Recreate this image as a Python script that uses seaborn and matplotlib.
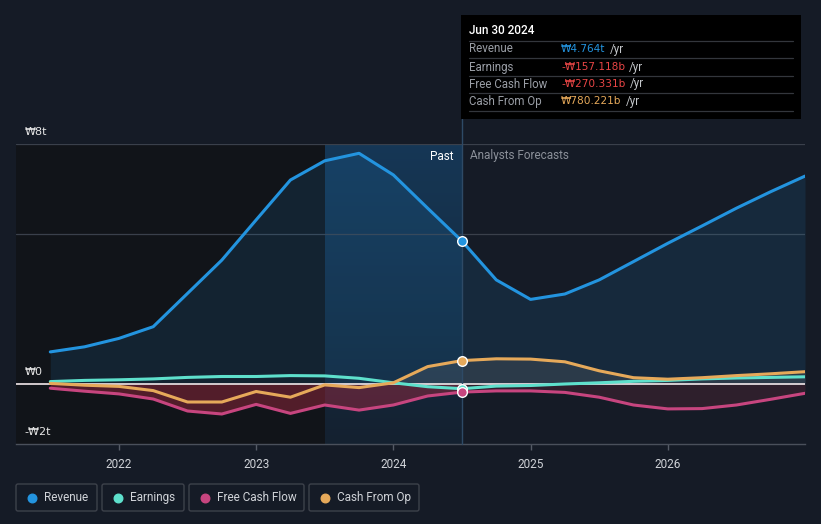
import numpy as np
import matplotlib.pyplot as plt
import seaborn as sns
import pandas as pd
from matplotlib.patches import Rectangle, FancyBboxPatch
from matplotlib.colors import LinearSegmentedColormap

# quarterly points, decimal years (past up to Jun 2024, forecasts after)
quarters = [2021.5, 2021.75, 2022.0, 2022.25, 2022.5, 2022.75, 2023.0, 2023.25,
            2023.5, 2023.75, 2024.0, 2024.25, 2024.5,
            2024.75, 2025.0, 2025.25, 2025.5, 2025.75, 2026.0, 2026.25,
            2026.5, 2026.75, 2027.0]
# values in ₩ trillions
revenue = [1.07, 1.24, 1.52, 1.91, 3.02, 4.13, 5.47, 6.80, 7.44, 7.69, 6.97, 5.86, 4.764,
           3.47, 2.82, 3.00, 3.47, 4.08, 4.69, 5.27, 5.86, 6.41, 6.93]
earnings = [0.08, 0.12, 0.14, 0.17, 0.22, 0.25, 0.25, 0.28, 0.27, 0.19, 0.04, -0.09, -0.157,
            -0.07, -0.05, 0.00, 0.04, 0.09, 0.12, 0.17, 0.20, 0.22, 0.24]
free_cash_flow = [-0.14, -0.24, -0.33, -0.50, -0.90, -1.00, -0.68, -0.98, -0.70, -0.87, -0.70, -0.40, -0.270,
                  -0.23, -0.23, -0.28, -0.44, -0.70, -0.83, -0.82, -0.70, -0.51, -0.31]
cash_from_op = [0.02, -0.04, -0.08, -0.22, -0.60, -0.60, -0.25, -0.44, -0.03, -0.12, 0.04, 0.58, 0.780,
                0.84, 0.83, 0.74, 0.44, 0.21, 0.16, 0.21, 0.28, 0.34, 0.41]

past_end = 2024.5
year_ticks = [2022, 2023, 2024, 2025, 2026]
y_labels = {8: "₩8t", 0: "₩0", -2: "-₩2t"}

series_names = ["Revenue", "Earnings", "Free Cash Flow", "Cash From Op"]
colors = {"Revenue": "#2394df", "Earnings": "#5ee0cc",
          "Free Cash Flow": "#c7457f", "Cash From Op": "#e6a95a"}

tip_title = "Jun 30 2024"
tip_values = ["₩4.764t", "-₩157.118b", "-₩270.331b", "₩780.221b"]
tip_colors = ["#2394df", "#e84545", "#e84545", "#e6a95a"]

df = pd.DataFrame({"date": quarters, "Revenue": revenue, "Earnings": earnings,
                   "Free Cash Flow": free_cash_flow, "Cash From Op": cash_from_op})
long_df = df.melt(id_vars="date", var_name="series", value_name="value")

bg = "#151b26"
sns.set_theme(style="dark")
plt.rcParams['font.family'] = ['Roboto', 'DejaVu Sans']
cur_font = ['DejaVu Sans']  # Roboto's won sign hides the minus

fig = plt.figure(figsize=(8.21, 5.24), dpi=100, facecolor=bg)
ax = fig.add_axes([16 / 821, 1 - 444 / 524, 789 / 821, 300 / 524])
ax.set_facecolor(bg)
xmin, xmax = 2021.25, 2027.0
ax.set_xlim(xmin, xmax)
ax.set_ylim(-2, 8)

# darker past area and the highlighted last year
ax.axvspan(xmin, 2023.5, color="#111419", zorder=0, lw=0)
grad = LinearSegmentedColormap.from_list("hl", ["#142232", "#163b5c"])
ax.imshow(np.linspace(0, 1, 100).reshape(-1, 1), cmap=grad, aspect="auto",
          extent=[2023.5, past_end, -2, 8], origin="lower", zorder=0.5, alpha=0.9)

# gridlines
for g in [8, 5]:
    ax.axhline(g, color="#3a404b", lw=0.9, zorder=1)
ax.axhline(0, color="#f2e8ea", lw=1.2, zorder=3)

x = np.array(quarters)
past = x <= past_end
fut = x >= past_end

# fills
ax.fill_between(x, df["Revenue"], 0, color=colors["Revenue"], alpha=0.12, lw=0, zorder=1.5)
ax.fill_between(x[past], df["Free Cash Flow"][past], 0, color="#a3293f", alpha=0.45, lw=0, zorder=1.6)
ax.fill_between(x[fut], df["Free Cash Flow"][fut], 0, color="#6b2a3c", alpha=0.3, lw=0, zorder=1.6)
cfo = df["Cash From Op"].clip(lower=0)
ax.fill_between(x, cfo, 0, color="#7a7a7a", alpha=0.22, lw=0, zorder=1.6)

sns.lineplot(data=long_df, x="date", y="value", hue="series", hue_order=series_names,
             palette=colors, linewidth=2.2, ax=ax, legend=False, zorder=4)

# markers at the last reported point
for name in series_names:
    v = df.loc[df["date"] == past_end, name].values[0]
    ax.scatter(past_end, v, s=48, color=colors[name], edgecolor="white", linewidth=1.0, zorder=6)

# past / forecast divider
ax.axvline(past_end, ymin=0, ymax=(444 - 119) / 300, color="#2e4a66", lw=1.0, clip_on=False, zorder=5)
ax.text(past_end - 0.06, 7.6, "Past", color="white", fontsize=8.5, ha="right", va="center", zorder=7)
ax.text(past_end + 0.06, 7.6, "Analysts Forecasts", color="#8b9099", fontsize=8.5, ha="left", va="center", zorder=7)

# y labels
for v, lab in y_labels.items():
    ax.text(xmin + 0.06, v + 0.4, lab, color="#e6e6e6", fontsize=8, ha="left", va="center",
            zorder=7, family=cur_font)

ax.set_xticks(year_ticks)
ax.set_xticklabels([str(y) for y in year_ticks], color="#d0d3d8", fontsize=8.5)
ax.set_yticks([])
ax.tick_params(axis="x", colors="#555b66", labelcolor="#d0d3d8", length=4, width=1, pad=6, bottom=True)
ax.set_xlabel("")
ax.set_ylabel("")
for s in ["top", "left", "right"]:
    ax.spines[s].set_visible(False)
ax.spines["bottom"].set_color("#4a505b")
ax.spines["bottom"].set_linewidth(1.0)

# overlay in pixel coords for tooltip and legend
ov = fig.add_axes([0, 0, 1, 1], facecolor="none")
ov.set_xlim(0, 821)
ov.set_ylim(524, 0)
ov.axis("off")

ov.add_patch(Rectangle((461, 15), 340, 104, facecolor="#000000", edgecolor="none", zorder=1))
ov.text(469, 31, tip_title, color="white", fontsize=8.5, fontweight="medium", va="center", zorder=2)
row_y = [49, 67, 84, 101]
for sep in [41, 58, 76, 93, 111]:
    ov.plot([469, 793], [sep, sep], color="#33363c", lw=0.9, zorder=2)
for name, ry, val, col in zip(series_names, row_y, tip_values, tip_colors):
    ov.text(469, ry, name, color="#9a9ea6", fontsize=8.3, va="center", zorder=2)
    t = ov.text(561, ry, val, color=col, fontsize=7.6, va="center", zorder=2, family=cur_font)
    ov.annotate("/yr", xy=(1, 0.5), xycoords=t, xytext=(3, 0), textcoords="offset points",
                color="#c5c8cc", fontsize=8.3, va="center", ha="left", zorder=2)

# legend boxes
boxes = [(16, 97), (102, 184), (189, 304), (309, 419)]
for name, (x0, x1) in zip(series_names, boxes):
    ov.add_patch(FancyBboxPatch((x0, 484), x1 - x0, 27, boxstyle="round,pad=0,rounding_size=2",
                                facecolor="none", edgecolor="#3d424b", lw=1.0))
    ov.scatter(x0 + 16, 497.5, s=38, color=colors[name], zorder=3)
    ov.text(x0 + 28, 497.5, name, color="#d0d3d8", fontsize=8.5, va="center")

fig.savefig("out.png", dpi=100, facecolor=bg)
